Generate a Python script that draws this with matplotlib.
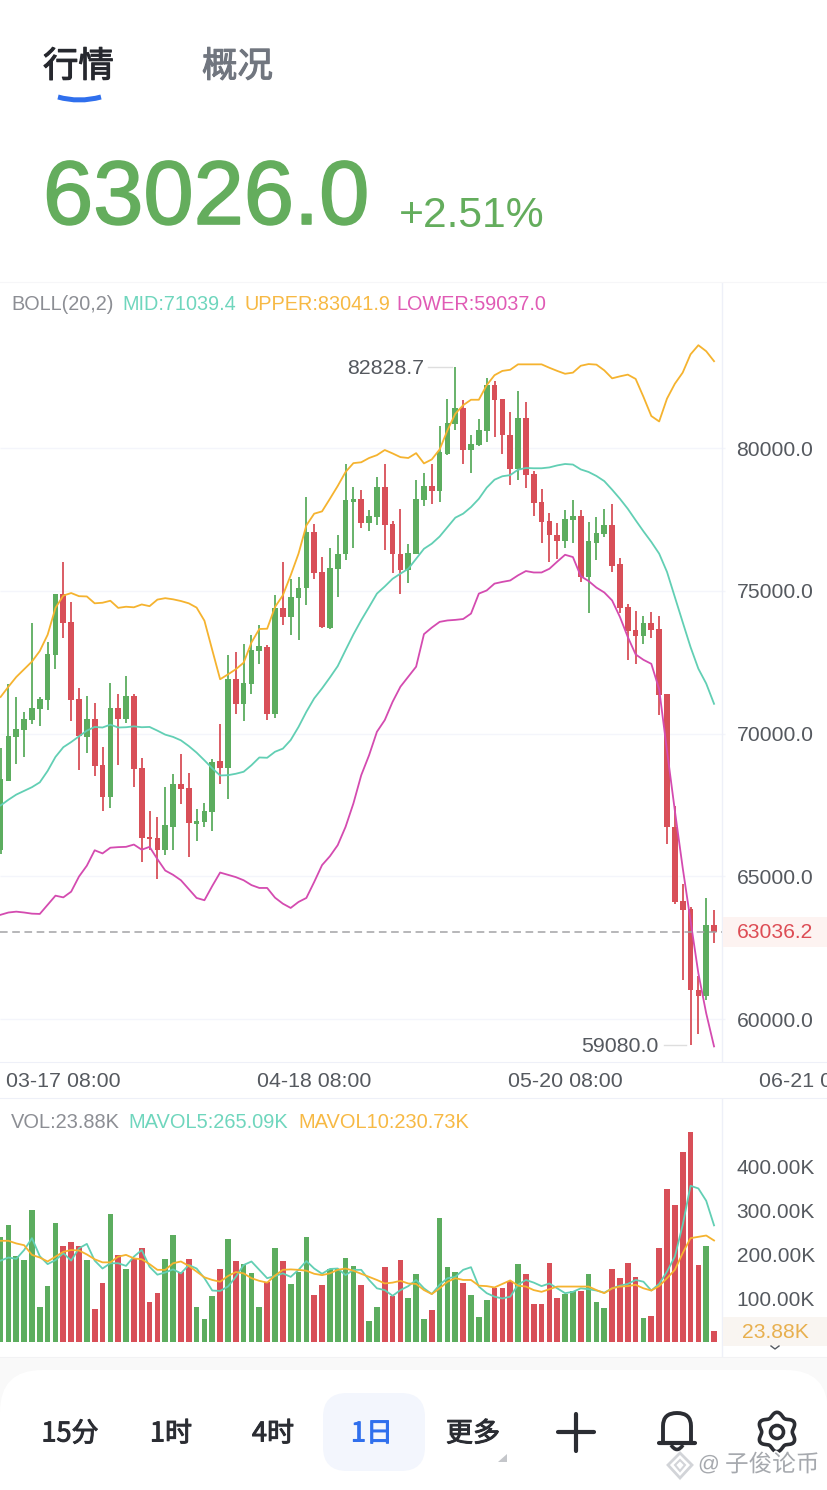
import numpy as np
import matplotlib
matplotlib.use("Agg")
import matplotlib.pyplot as plt
from matplotlib.patches import FancyBboxPatch, Rectangle, Circle, PathPatch, Polygon
from matplotlib.path import Path
import matplotlib.patheffects as pe

plt.rcParams['font.family'] = ['Liberation Sans', 'Noto Sans CJK SC']

# ---------- data (prices in thousands, volumes in thousands) ----------
opens = [65.91,68.35,69.87,70.12,70.46,70.86,71.16,72.76,74.87,73.89,
         71.21,69.87,70.50,68.89,67.79,70.88,70.50,71.31,68.80,66.38,
         66.34,65.93,66.74,68.24,68.08,66.83,66.90,67.25,69.02,68.78,
         71.91,71.04,71.74,72.89,73.04,70.70,74.41,74.08,74.76,75.09,
         77.06,75.65,73.70,75.77,76.27,78.11,78.22,77.37,77.58,78.63,
         77.35,76.30,75.71,76.27,78.17,78.67,78.49,79.78,80.83,81.40,
         79.94,80.12,80.60,82.20,81.72,80.47,79.25,81.06,79.08,78.11,
         77.43,76.97,76.76,77.47,77.61,75.48,76.69,77.00,77.29,75.92,
         74.43,73.61,73.40,73.87,73.66,71.40,66.74,64.12,63.86,61.03,
         60.82,63.30]
closes = [68.42,69.92,70.17,70.50,70.90,71.20,72.78,74.87,73.86,71.17,
          69.90,70.50,68.86,67.79,70.88,70.50,71.31,68.75,66.34,66.30,
          65.93,66.78,68.24,68.06,66.85,66.94,67.28,69.00,68.78,71.91,
          71.04,71.78,72.92,73.05,70.70,74.39,74.08,74.78,75.11,77.06,
          75.63,73.73,75.80,76.30,78.17,78.22,77.37,77.61,78.63,77.29,
          76.27,75.71,76.32,78.20,78.67,78.49,79.86,80.88,81.40,79.94,
          80.15,80.64,82.20,81.67,80.44,79.25,81.06,79.04,78.07,77.41,
          76.94,76.76,77.52,77.61,75.48,76.73,77.04,77.29,75.88,74.39,
          73.58,73.40,73.87,73.63,71.35,66.71,64.09,63.82,61.00,60.82,
          63.30,63.03]
highs = [69.49,71.74,71.28,70.74,73.86,71.27,73.19,74.87,76.01,74.62,
         71.58,71.33,71.07,69.53,71.78,71.37,72.00,71.40,69.13,67.28,
         67.08,68.12,68.58,69.29,68.62,67.34,67.55,69.09,70.33,72.74,
         72.85,73.12,73.46,73.79,73.10,74.86,76.01,75.42,75.48,78.28,
         77.35,76.18,76.51,76.97,79.43,78.63,78.54,77.84,78.98,79.45,
         77.43,77.87,76.62,78.87,79.14,79.43,80.76,81.73,82.83,81.67,
         80.47,81.03,82.45,82.35,81.73,81.26,81.99,81.61,79.18,78.55,
         77.73,77.37,77.82,78.17,77.84,77.41,77.58,77.87,78.05,76.15,
         74.55,74.29,74.10,74.24,74.10,71.40,67.47,64.73,63.94,61.49,
         64.24,63.82]
lows = [65.77,68.35,68.93,69.16,70.34,70.26,70.82,72.25,73.35,70.45,
        68.73,69.33,68.51,67.30,67.39,68.89,70.37,68.11,65.50,65.93,
        64.89,65.73,65.91,67.52,65.67,66.23,66.74,66.58,68.22,67.71,
        70.68,70.43,71.37,72.45,70.47,70.53,73.80,73.44,73.27,74.49,
        75.40,73.70,73.67,74.78,76.09,76.51,77.21,77.09,77.29,76.41,
        75.63,74.87,75.27,76.27,77.97,78.05,78.12,79.74,80.64,79.45,
        79.14,80.06,80.21,80.39,79.80,78.72,78.89,78.61,77.61,76.67,
        76.01,76.12,76.50,76.69,75.32,74.22,76.06,76.88,75.66,74.22,
        72.56,72.44,73.14,73.35,70.64,66.13,64.03,61.35,59.08,59.46,
        60.68,62.67]
boll_upper = [71.28,71.64,71.98,72.25,72.52,72.89,73.46,74.40,74.83,74.92,
              74.81,74.80,74.56,74.58,74.65,74.40,74.44,74.42,74.52,74.46,
              74.69,74.74,74.70,74.64,74.56,74.41,73.95,72.92,71.90,72.07,
              72.25,72.48,73.19,73.66,73.67,74.43,74.84,75.54,76.30,77.29,
              77.70,77.78,78.22,78.67,79.16,79.47,79.50,79.65,79.75,79.93,
              79.81,79.68,79.65,79.82,79.46,79.60,79.95,80.62,81.20,81.50,
              81.69,81.69,82.20,82.55,82.70,82.74,82.93,82.93,82.93,82.93,
              82.81,82.70,82.60,82.64,82.88,82.94,82.92,82.72,82.44,82.51,
              82.57,82.42,81.79,81.12,80.93,81.73,82.25,82.64,83.28,83.60,
              83.39,83.04]
boll_mid = [67.48,67.68,67.86,67.99,68.12,68.29,68.69,69.18,69.52,69.70,
            69.90,70.10,70.23,70.21,70.31,70.21,70.22,70.25,70.22,70.23,
            70.10,69.96,69.88,69.76,69.56,69.33,69.06,68.78,68.53,68.54,
            68.59,68.66,68.89,69.16,69.15,69.36,69.47,69.77,70.23,70.76,
            71.23,71.58,71.96,72.36,72.92,73.47,73.97,74.43,74.90,75.15,
            75.42,75.60,75.77,76.12,76.47,76.65,76.90,77.23,77.56,77.70,
            77.93,78.22,78.61,78.89,79.01,79.05,79.24,79.30,79.29,79.29,
            79.32,79.39,79.44,79.42,79.25,79.16,79.02,78.84,78.54,78.22,
            77.87,77.47,77.08,76.71,76.30,75.66,74.78,73.90,73.03,72.27,
            71.75,71.04]
boll_lower = [63.65,63.73,63.76,63.73,63.69,63.68,64.00,64.32,64.26,64.46,
              64.99,65.37,65.91,65.80,66.00,66.02,66.03,66.11,65.93,66.03,
              65.60,65.20,65.05,64.86,64.55,64.24,64.16,64.66,65.13,65.05,
              64.97,64.86,64.69,64.59,64.59,64.25,64.04,63.89,64.10,64.24,
              64.80,65.39,65.70,66.09,66.73,67.55,68.54,69.24,70.06,70.47,
              71.11,71.64,71.99,72.34,73.48,73.71,73.91,73.96,73.98,74.01,
              74.20,74.90,75.01,75.25,75.31,75.36,75.54,75.69,75.64,75.64,
              75.77,76.02,76.26,76.18,75.51,75.34,75.11,74.94,74.66,74.08,
              73.38,72.77,72.58,72.44,71.55,69.40,67.30,65.30,63.45,61.60,
              60.20,59.04]
volumes = [238,266,195,186,300,80,127,270,219,227,
           219,186,75,135,291,197,167,188,213,90,
           111,188,243,158,188,80,52,105,167,233,
           183,177,156,80,137,213,183,132,160,239,
           107,130,167,165,192,173,129,48,80,170,
           105,186,101,154,52,73,281,171,158,135,
           107,56,95,123,122,139,177,155,86,86,
           179,99,108,117,117,155,92,77,165,145,
           180,147,54,59,214,347,311,431,478,176,
           218,23.88]
mavol5 = [185,192,189,209,236,195,177,186,202,185,
          213,223,185,167,179,179,173,194,209,171,
          153,158,165,156,175,167,145,117,116,126,
          148,175,183,164,145,150,156,148,164,184,
          167,155,166,167,152,164,164,141,122,118,
          105,118,127,141,122,109,130,145,148,164,
          170,126,111,103,99,103,130,141,135,127,
          133,122,111,114,122,120,117,112,122,128,
          132,141,137,117,132,160,194,266,355,349,
          321,265.09]
mavol10 = [230,230,224,220,198,192,183,194,205,209,
           208,199,188,181,181,194,198,190,188,177,
           164,164,179,183,173,160,147,141,137,150,
           159,156,145,139,135,151,164,165,164,162,
           155,152,156,164,167,162,155,148,141,133,
           135,139,133,132,118,109,122,137,145,141,
           141,128,127,124,132,140,128,126,118,114,
           120,126,126,126,126,126,118,111,122,126,
           127,130,122,117,127,145,164,202,236,239,
           242,230.73]
price_ticks = [60, 65, 70, 75, 80]
price_labels = ['60000.0', '65000.0', '70000.0', '75000.0', '80000.0']
vol_ticks = [100, 200, 300, 400]
vol_labels = ['100.00K', '200.00K', '300.00K', '400.00K']
date_ticks = [8, 40, 72, 104]
date_labels = ['03-17 08:00', '04-18 08:00', '05-20 08:00', '06-21 08:00']
last_price = 63.0362

# ---------- style ----------
GREEN, RED = '#5cad5f', '#d84f58'
TEAL, ORANGE, MAGENTA = '#62cfb4', '#f5b32f', '#d44bb0'
W, H = 828, 1490
GRID = '#f4f5fb'
EDGE = '#eef0f8'
TICK = '#55595f'
LW = 1.3

fig = plt.figure(figsize=(W / 100, H / 100), dpi=100, facecolor='white')


def px_axes(top, bottom, **kw):
    return fig.add_axes([0, 1 - bottom / H, 1, (bottom - top) / H], **kw)


n = len(opens)
idx = np.arange(n)
px_per = 7.84
x0 = 0.6
xlim = ((0 - x0) / px_per, (W - x0) / px_per)
sep = (722 - x0) / px_per
colors = [GREEN if c >= o else RED for o, c in zip(opens, closes)]
body_bottom = np.minimum(opens, closes)
body_height = np.abs(np.array(closes) - np.array(opens))

# ---------- price pane ----------
ax = px_axes(282, 1062)
k_per_px = 5 / 142.75
ax.set_ylim(80 - (1062 - 448) * k_per_px, 80 + (448 - 282) * k_per_px)
ax.set_xlim(*xlim)
ax.hlines(price_ticks, xlim[0], sep + 0.4, color=GRID, lw=1, zorder=0)
ax.axvline(sep, color=EDGE, lw=1, zorder=0)
ax.vlines(idx, lows, highs, colors=colors, lw=LW, zorder=2)
ax.bar(idx, body_height, bottom=body_bottom, width=0.72, color=colors, zorder=3, linewidth=0)
ax.plot(idx, boll_upper, color=ORANGE, lw=LW, zorder=4)
ax.plot(idx, boll_mid, color=TEAL, lw=LW, zorder=4)
ax.plot(idx, boll_lower, color=MAGENTA, lw=LW, zorder=4)
ax.hlines(last_price, xlim[0], sep, color='#a3a3a6', lw=1.1, linestyles=(0, (5, 3)), zorder=5)

ax.set_yticks(price_ticks, price_labels)
ax.yaxis.tick_right()
ax.tick_params(axis='y', length=0, pad=-65.8, labelsize=15.2, labelcolor=TICK)
ax.set_xticks(date_ticks, date_labels)
ax.tick_params(axis='x', length=0, pad=7.5, labelsize=15.4, labelcolor=TICK)
for s in ['left', 'right']:
    ax.spines[s].set_visible(False)
ax.spines['top'].set_color('#f6f6f8')
ax.spines['bottom'].set_color(EDGE)

i_hi = int(np.argmax(highs))
i_lo = int(np.argmin(lows))
ax.plot([i_hi - 3.45, i_hi - 0.45], [highs[i_hi]] * 2, color='#dedede', lw=1, zorder=1)
ax.plot([i_lo - 3.4, i_lo - 0.55], [lows[i_lo]] * 2, color='#dedede', lw=1, zorder=1)
ax.annotate(f'{highs[i_hi] * 1000 - 1.3:.1f}', (i_hi, highs[i_hi]), xytext=(-31, -1),
            textcoords='offset pixels', ha='right', va='center', fontsize=15.4, color=TICK)
ax.annotate(f'{lows[i_lo] * 1000:.1f}', (i_lo, lows[i_lo]), xytext=(-32, -1),
            textcoords='offset pixels', ha='right', va='center', fontsize=15.4, color=TICK)

# ---------- volume pane ----------
vx = px_axes(1098, 1357)
vk_per_px = 100 / 44
vx.set_ylim(-(1357 - 1342) * vk_per_px, (1342 - 1098) * vk_per_px)
vx.set_xlim(*xlim)
vx.axvline(sep, color=EDGE, lw=1, zorder=0)
vx.bar(idx, volumes, width=0.72, color=colors, zorder=2, linewidth=0)
vx.plot(idx, mavol5, color=TEAL, lw=LW, zorder=3)
vx.plot(idx, mavol10, color=ORANGE, lw=LW, zorder=4)
vx.set_yticks(vol_ticks, vol_labels)
vx.yaxis.tick_right()
vx.tick_params(axis='y', length=0, pad=-65.8, labelsize=15, labelcolor=TICK)
vx.set_xticks([])
for s in ['left', 'right']:
    vx.spines[s].set_visible(False)
vx.spines['top'].set_color(EDGE)
vx.spines['bottom'].set_color('#f2f2f4')

# ---------- overlay in pixel coordinates ----------
ui = fig.add_axes([0, 0, 1, 1], facecolor='none')
ui.set_xlim(0, W)
ui.set_ylim(H, 0)
ui.axis('off')

CJK = ['Noto Sans CJK SC', 'DejaVu Sans']
thick = [pe.withStroke(linewidth=0.8, foreground='#26282e')]
thick2 = [pe.withStroke(linewidth=0.8, foreground='#71767f')]
ui.text(43, 67, '行情', family=CJK, fontsize=25.5, color='#26282e', va='center', path_effects=thick)
ui.text(202, 67, '概况', family=CJK, fontsize=25.5, color='#71767f', va='center', path_effects=thick2)
arc = Path([(58, 97), (79, 103), (101, 97)], [Path.MOVETO, Path.CURVE3, Path.CURVE3])
ui.add_patch(PathPatch(arc, fill=False, edgecolor='#2f6fed', lw=3.6, capstyle='butt'))

ui.text(43, 224, '63026.0', fontsize=65, color='#64ad5d', va='baseline',
        path_effects=[pe.withStroke(linewidth=1.2, foreground='#64ad5d')])
ui.text(399, 227, '+2.51%', fontsize=30.7, color='#64ad5d', va='baseline')

for x, s, c in [(11, 'BOLL(20,2)', '#8c8e94'), (122, 'MID:71039.4', '#6fd6bd'),
                (245, 'UPPER:83041.9', '#f7b944'), (396, 'LOWER:59037.0', '#e05bb5')]:
    ui.text(x, 304, s, fontsize=14.3, color=c, va='center')
for x, s, c in [(11, 'VOL:23.88K', '#8c8e94'), (128, 'MAVOL5:265.09K', '#6fd6bd'),
                (298, 'MAVOL10:230.73K', '#f7b944')]:
    ui.text(x, 1122, s, fontsize=14.4, color=c, va='center')

ui.add_patch(Rectangle((723, 917), 105, 30, color='#fdf3f1', lw=0))
ui.text(737, 933, '63036.2', fontsize=15.2, color='#dd4d55', va='center')
ui.add_patch(Rectangle((723, 1317), 105, 29, color='#f9f5f1', lw=0))
ui.text(775, 1332, '23.88K', fontsize=15.2, color='#e8b04f', va='center', ha='center')
ui.plot([771, 775, 779], [1346, 1349, 1346], color='#55595f', lw=1)

# bottom panel
ui.add_patch(Rectangle((0, 1358), W, H - 1358, color='#f9f9f9', lw=0))
ui.add_patch(FancyBboxPatch((0, 1370), W, 200, boxstyle='round,pad=0,rounding_size=42',
                            facecolor='white', edgecolor='none'))
ui.add_patch(FancyBboxPatch((323, 1393), 102, 78, boxstyle='round,pad=0,rounding_size=24',
                            facecolor='#f3f6fd', edgecolor='none'))
DARK = '#2b2d33'
for xc, s, c in [(70, '15分', DARK), (171, '1时', DARK), (273, '4时', DARK),
                 (372, '1日', '#2f6fed'), (473, '更多', DARK)]:
    ui.text(xc, 1434, s, family=CJK, fontsize=19.5, color=c, ha='center', va='center',
            path_effects=[pe.withStroke(linewidth=0.7, foreground=c)])
ui.add_patch(Polygon([(507, 1454), (507, 1462), (498, 1462)], color='#c4c6ca', lw=0))
ui.plot([558, 594], [1432, 1432], color=DARK, lw=3, solid_capstyle='round')
ui.plot([576, 576], [1414, 1451], color=DARK, lw=3, solid_capstyle='round')

# bell
bell = Path([(663, 1443), (663, 1426), (663, 1413), (677, 1413), (691, 1413), (691, 1426), (691, 1443)],
            [Path.MOVETO, Path.LINETO, Path.CURVE3, Path.CURVE3, Path.CURVE3, Path.CURVE3, Path.LINETO])
ui.add_patch(PathPatch(bell, fill=False, edgecolor=DARK, lw=2.8))
ui.plot([659, 695], [1443, 1443], color=DARK, lw=3, solid_capstyle='round')
ui.add_patch(PathPatch(Path([(671, 1445), (677, 1454), (683, 1445)], [Path.MOVETO, Path.CURVE3, Path.CURVE3]),
                       fill=False, edgecolor=DARK, lw=2.6))

# gear
theta = np.linspace(0, 2 * np.pi, 200)
r = 17.5 + 2.2 * np.cos(6 * theta)
ui.plot(777 + r * np.sin(theta), 1432 + r * np.cos(theta), color=DARK, lw=2.6)
ui.add_patch(Circle((777, 1432), 6.5, fill=False, edgecolor=DARK, lw=2.6))

# watermark
halo = [pe.withStroke(linewidth=2.5, foreground='white')]
ui.add_patch(Polygon([(680, 1453), (692, 1465), (680, 1478), (668, 1465)], closed=True,
                     fill=False, edgecolor='#d2d4d8', lw=2))
ui.add_patch(Polygon([(680, 1460), (685, 1465), (680, 1471), (675, 1465)], closed=True,
                     fill=False, edgecolor='#d2d4d8', lw=1.5))
ui.text(698, 1465, '@', fontsize=15.5, color='#a6a9ae', va='center', path_effects=halo)
ui.text(725, 1465, '子俊论币', family=CJK, fontsize=17, color='#a6a9ae', va='center', path_effects=halo)

fig.savefig('out.png', dpi=100, facecolor='white')
